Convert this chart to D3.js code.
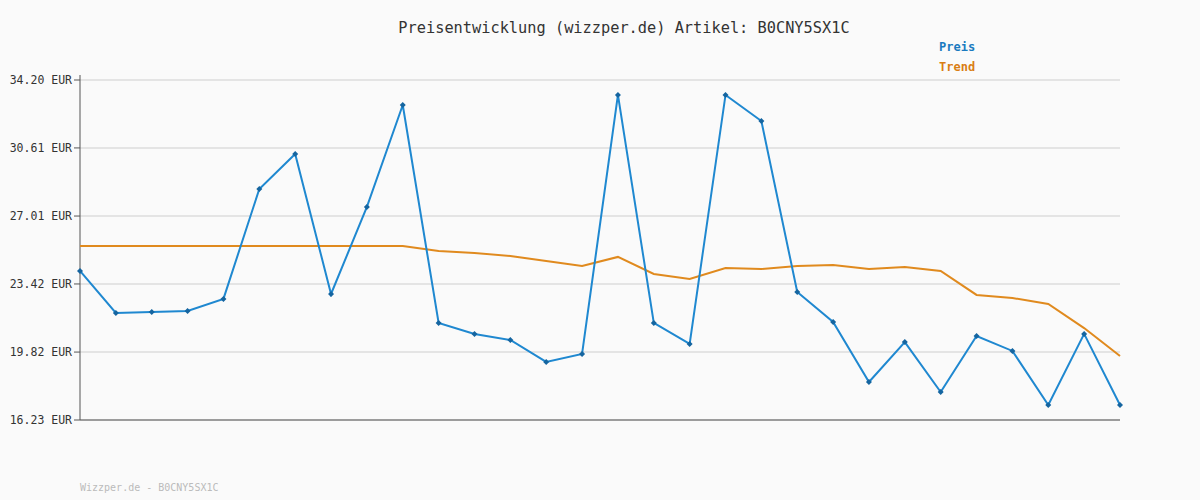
<!DOCTYPE html>
<html><head><meta charset="utf-8">
<script src="https://cdn.jsdelivr.net/npm/d3@7"></script>
<style>body{margin:0;background:#fafafa}text{font-family:"DejaVu Sans Mono",monospace}</style>
</head><body><svg id="c" width="1200" height="500"></svg>
<script>
const preis=[24.11,21.89,21.94,21.99,22.63,28.44,30.29,22.89,27.49,32.88,21.36,20.78,20.46,19.30,19.72,33.41,21.36,20.25,33.41,32.03,23.00,21.41,18.24,20.35,17.71,20.67,19.88,17.02,20.78,17.02];
const trend=[25.43,25.43,25.43,25.43,25.43,25.43,25.43,25.43,25.43,25.43,25.16,25.06,24.90,24.63,24.37,24.85,23.95,23.68,24.26,24.21,24.37,24.42,24.21,24.32,24.11,22.84,22.68,22.36,21.09,19.61];
const ticks=[16.23,19.82,23.42,27.01,30.61,34.20];
const svg=d3.select("#c");
svg.append("rect").attr("width",1200).attr("height",500).attr("fill","#fafafa");
const x=d3.scaleLinear().domain([0,preis.length-1]).range([80,1120]);
const y=d3.scaleLinear().domain([16.23,34.20]).range([420,80]);
ticks.forEach(t=>{
 svg.append("line").attr("x1",80).attr("x2",1120).attr("y1",y(t)).attr("y2",y(t)).attr("stroke","#e4e4e4").attr("stroke-width",2);
 svg.append("line").attr("x1",74).attr("x2",80).attr("y1",y(t)).attr("y2",y(t)).attr("stroke","#555");
 svg.append("text").attr("x",72).attr("y",y(t)+4).attr("text-anchor","end").attr("font-size",11.5).attr("fill","#333").text(t.toFixed(2)+" EUR");
});
svg.append("line").attr("x1",80).attr("x2",80).attr("y1",75).attr("y2",420).attr("stroke","#555");
svg.append("line").attr("x1",80).attr("x2",1120).attr("y1",420).attr("y2",420).attr("stroke","#555");
const line=d3.line().x((d,i)=>x(i)).y(d=>y(d));
svg.append("path").attr("d",line(trend)).attr("fill","none").attr("stroke","#e08a1e").attr("stroke-width",2);
svg.append("path").attr("d",line(preis)).attr("fill","none").attr("stroke","#1f88d0").attr("stroke-width",2);
svg.selectAll(".p").data(preis).enter().append("path").attr("transform",(d,i)=>`translate(${x(i)},${y(d)})`).attr("d","M0,-3L3,0L0,3L-3,0Z").attr("fill","#1565a0");
svg.append("text").attr("x",624).attr("y",33).attr("text-anchor","middle").attr("font-size",15.3).attr("fill","#333").text("Preisentwicklung (wizzper.de) Artikel: B0CNY5SX1C");
svg.append("text").attr("x",939).attr("y",51).attr("font-size",12).attr("font-weight","bold").attr("fill","#1a7ac0").text("Preis");
svg.append("text").attr("x",939).attr("y",71).attr("font-size",12).attr("font-weight","bold").attr("fill","#d97e14").text("Trend");
svg.append("text").attr("x",80).attr("y",491).attr("font-size",10).attr("fill","#bbb").text("Wizzper.de - B0CNY5SX1C");
</script></body></html>
